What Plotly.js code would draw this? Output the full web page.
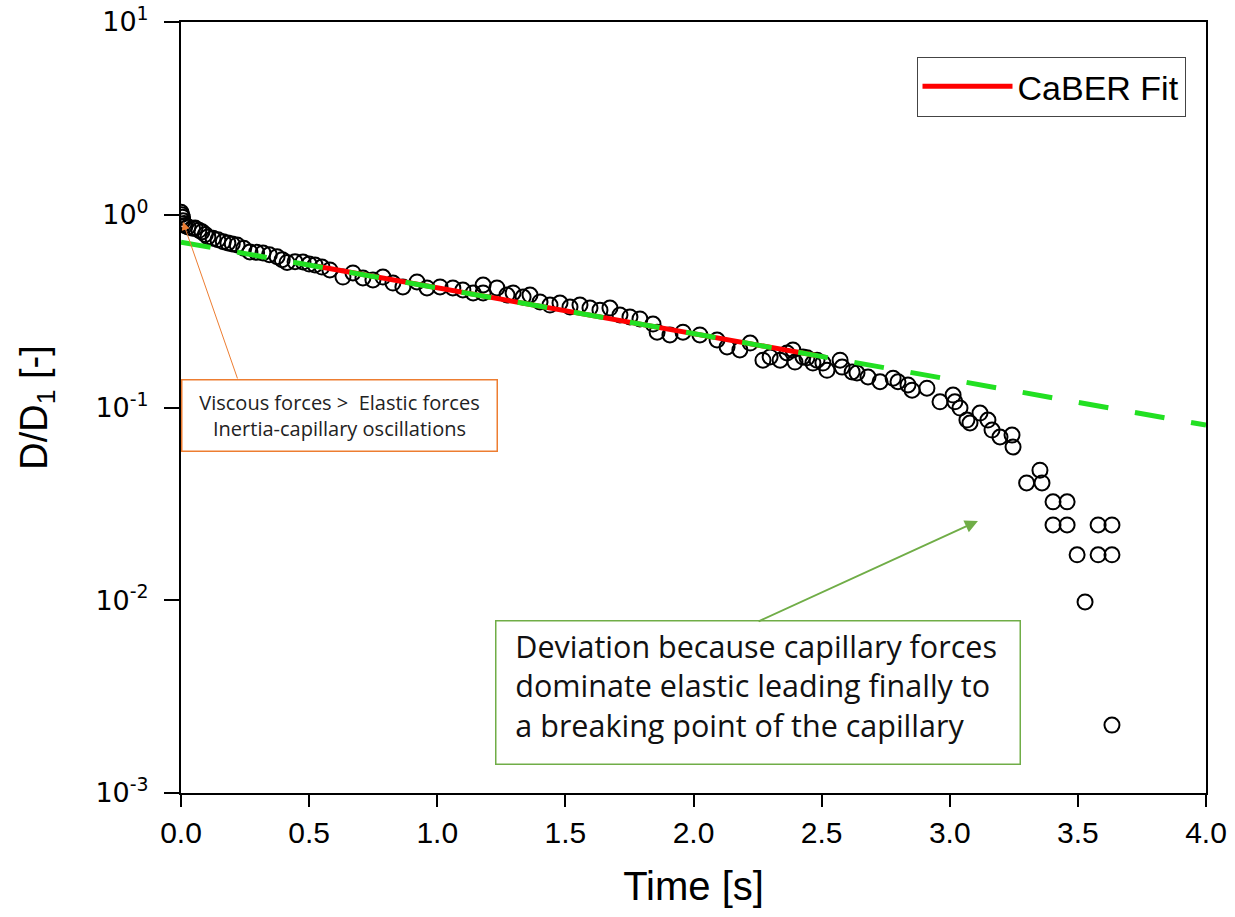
<!DOCTYPE html>
<html>
<head>
<meta charset="utf-8">
<script src="https://cdn.plot.ly/plotly-3.0.1.min.js"></script>
<style>html,body{margin:0;padding:0;background:#fff;}#chart{width:1235px;height:917px;}</style>
</head>
<body>
<div id="chart"></div>
<script>
// Measured data: time [s] and D/D1 [-]
var timeS = [0.000,0.003,0.006,0.008,0.012,0.016,0.027,0.045,0.055,0.070,0.082,0.095,0.105,0.125,0.144,0.165,0.183,0.200,0.219,0.245,
  0.269,0.295,0.320,0.345,0.375,0.395,0.414,0.445,0.476,0.500,0.523,0.550,0.581,0.632,0.671,0.710,0.749,0.788,0.827,0.866,
  0.921,0.960,1.011,1.061,1.100,1.140,1.179,1.179,1.233,1.272,1.296,1.335,1.362,1.401,1.440,1.479,1.518,1.557,1.596,1.635,
  1.674,1.713,1.752,1.791,1.842,1.858,1.908,1.959,2.025,2.092,2.131,2.181,2.221,2.271,2.299,2.338,2.365,2.388,2.396,2.427,
  2.443,2.466,2.482,2.505,2.521,2.572,2.580,2.619,2.638,2.681,2.728,2.779,2.798,2.837,2.853,2.911,2.962,3.013,3.020,3.040,
  3.067,3.079,3.118,3.149,3.165,3.196,3.243,3.247,3.300,3.352,3.360,3.403,3.403,3.458,3.458,3.497,3.528,3.579,3.579,3.633,
  3.633,3.633];
var ratioD = [1.030,1.000,0.970,0.930,0.900,0.880,0.863,0.850,0.853,0.830,0.815,0.790,0.767,0.755,0.742,0.725,0.714,0.705,0.697,0.670,
  0.641,0.638,0.634,0.620,0.606,0.585,0.566,0.570,0.569,0.555,0.549,0.535,0.517,0.475,0.499,0.470,0.459,0.475,0.442,0.422,
  0.448,0.417,0.422,0.417,0.407,0.393,0.393,0.432,0.417,0.383,0.393,0.374,0.383,0.353,0.340,0.348,0.332,0.340,0.328,0.320,
  0.328,0.302,0.295,0.288,0.271,0.246,0.238,0.246,0.238,0.224,0.206,0.199,0.216,0.176,0.183,0.176,0.192,0.199,0.172,0.183,
  0.181,0.170,0.176,0.170,0.156,0.176,0.162,0.153,0.151,0.144,0.136,0.142,0.136,0.131,0.123,0.126,0.107,0.116,0.107,0.0993,
  0.0861,0.0831,0.0936,0.0861,0.0764,0.0703,0.0719,0.0624,0.0406,0.0473,0.0406,0.0324,0.0246,0.0324,0.0246,0.0172,0.0098,0.0246,0.0172,0.0246,
  0.0172,0.00225];

// CaBER exponential fit (straight on log axis)
var fitT = [0.0, 4.0];
var fitD = [0.721, 0.081];
var caberT = [0.53, 2.48];
var caberD = [0.540, 0.186];

var xTickVals = [0,0.5,1,1.5,2,2.5,3,3.5,4];
var xTickText = ['0.0','0.5','1.0','1.5','2.0','2.5','3.0','3.5','4.0'];
var yTickVals = [0.001,0.01,0.1,1,10];
var yTickText = ['10<sup>-3</sup>','10<sup>-2</sup>','10<sup>-1</sup>','10<sup>0</sup>','10<sup>1</sup>'];

var traces = [
  {x: timeS, y: ratioD, mode: 'markers', type: 'scatter', showlegend: false,
   marker: {symbol: 'circle-open', size: 15, color: '#000', line: {width: 2, color: '#000'}}},
  {x: caberT, y: caberD, mode: 'lines', type: 'scatter', name: 'CaBER Fit',
   line: {color: '#ff0000', width: 5}},
  {x: fitT, y: fitD, mode: 'lines', type: 'scatter', showlegend: false,
   line: {color: '#22e022', width: 5, dash: '30px,27px'}}
];

var layout = {
  width: 1235, height: 917,
  margin: {l: 181, r: 29, t: 22, b: 124},
  paper_bgcolor: '#fff', plot_bgcolor: '#fff',
  font: {family: 'Liberation Sans, Arial, sans-serif', color: '#000'},
  xaxis: {
    range: [0, 4], tickvals: xTickVals, ticktext: xTickText,
    showline: true, mirror: true, linecolor: '#000', linewidth: 2,
    ticks: 'outside', ticklen: 12, tickwidth: 2, tickcolor: '#000',
    showgrid: false, zeroline: false,
    tickfont: {size: 30, family: 'Liberation Sans, Arial, sans-serif'},
    title: {text: 'Time [s]', font: {size: 40}, standoff: 24}
  },
  yaxis: {
    type: 'log', range: [-3, 1], tickvals: yTickVals, ticktext: yTickText,
    showline: true, mirror: true, linecolor: '#000', linewidth: 2,
    ticks: 'outside', ticklen: 15, tickwidth: 2, tickcolor: '#000',
    showgrid: false, zeroline: false,
    tickfont: {size: 27, family: 'DejaVu Sans, Verdana, sans-serif'},
    ticklabelstandoff: 10,
    title: {text: 'D/D<sub>1</sub> [-]', font: {size: 38}, standoff: 36}
  },
  legend: {
    x: 0.98, y: 0.955, xanchor: 'right', yanchor: 'top',
    bgcolor: '#fff', bordercolor: '#444', borderwidth: 1, itemwidth: 90,
    font: {size: 34, family: 'Liberation Sans, Arial, sans-serif'}
  },
  annotations: [
    {xref: 'x', yref: 'y', x: 0.6166, y: -1.044, showarrow: false,
     text: 'Viscous forces >  Elastic forces<br>Inertia-capillary oscillations',
     font: {family: 'Open Sans, Noto Sans, sans-serif', size: 20, color: '#222'},
     width: 312, height: 68, borderpad: 1, bordercolor: '#ed7d31', borderwidth: 1.5, bgcolor: '#fff'},
    {xref: 'x', yref: 'y', x: 0.0078, y: -0.0376, axref: 'x', ayref: 'y', ax: 0.2224, ay: -0.857,
     text: '', showarrow: true, arrowhead: 2, arrowsize: 1.6, arrowwidth: 1, arrowcolor: '#ed7d31'},
    {xref: 'x', yref: 'y', x: 2.2498, y: -2.476, showarrow: false,
     text: '&nbsp;&nbsp;Deviation because capillary forces<br>&nbsp;&nbsp;dominate elastic leading finally to<br>&nbsp;&nbsp;a breaking point of the capillary',
     font: {family: 'Open Sans, Noto Sans, sans-serif', size: 30.5, color: '#111'},
     align: 'left', valign: 'top',
     width: 517, height: 136, borderpad: 3, bordercolor: '#70ad47', borderwidth: 1.5, bgcolor: '#fff'},
    {xref: 'x', yref: 'y', x: 3.110, y: -1.589, axref: 'x', ayref: 'y', ax: 2.248, ay: -2.113,
     text: '', showarrow: true, arrowhead: 2, arrowsize: 1.3, arrowwidth: 2, arrowcolor: '#70ad47'}
  ]
};

Plotly.newPlot('chart', traces, layout, {displayModeBar: false, staticPlot: true});
</script>
</body>
</html>
